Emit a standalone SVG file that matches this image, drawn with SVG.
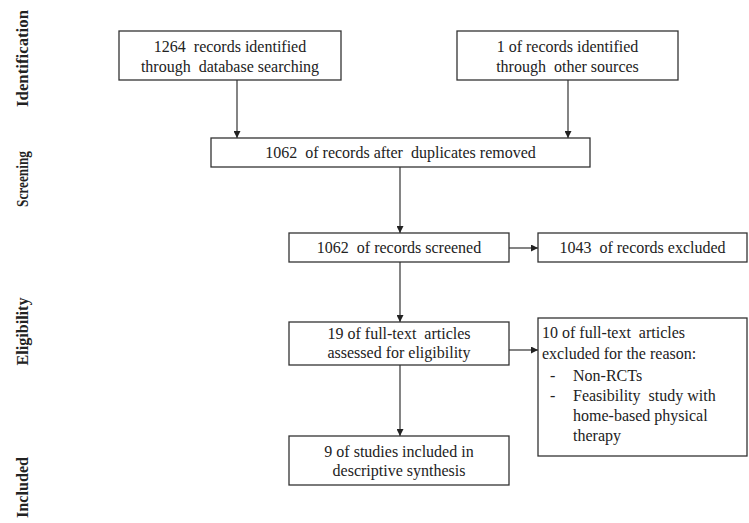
<svg xmlns="http://www.w3.org/2000/svg" width="749" height="523" viewBox="0 0 749 523">
<defs>
<marker id="ah" viewBox="0 0 10 10" refX="10" refY="5" markerWidth="7" markerHeight="7" markerUnits="userSpaceOnUse" orient="auto">
<path d="M0,0 L10,5 L0,10 z" fill="#222"/>
</marker>
<style>
.box{fill:#fff;stroke:#333;stroke-width:1.3}
.t{font-family:"Liberation Serif","Times New Roman","DejaVu Serif",serif;font-size:16px;fill:#222;white-space:pre}
.c{text-anchor:middle}
.lab{font-family:"Liberation Serif","Times New Roman","DejaVu Serif",serif;font-size:16px;font-weight:bold;fill:#222;text-anchor:middle}
.ln{stroke:#333;stroke-width:1.2;fill:none;marker-end:url(#ah)}
</style>
</defs>
<rect width="749" height="523" fill="#fff"/>
<g id="labels">
<text class="lab" transform="translate(28,58.5) rotate(-90)" textLength="97" lengthAdjust="spacingAndGlyphs">Identification</text>
<text class="lab" transform="translate(28,179) rotate(-90)" textLength="56" lengthAdjust="spacingAndGlyphs">Screening</text>
<text class="lab" transform="translate(28,331.5) rotate(-90)" textLength="68" lengthAdjust="spacingAndGlyphs">Eligibility</text>
<text class="lab" transform="translate(28,487.5) rotate(-90)" textLength="61" lengthAdjust="spacingAndGlyphs">Included</text>
</g>
<g id="connectors">
<line class="ln" x1="237" y1="80" x2="237" y2="138"/>
<line class="ln" x1="568" y1="80" x2="568" y2="138"/>
<line class="ln" x1="400" y1="167" x2="400" y2="233"/>
<line class="ln" x1="509" y1="248" x2="538" y2="248"/>
<line class="ln" x1="400" y1="262" x2="400" y2="322"/>
<line class="ln" x1="509" y1="350" x2="538" y2="350"/>
<line class="ln" x1="400" y1="365" x2="400" y2="436"/>
</g>
<g id="n1">
<rect class="box" x="119" y="31" width="222" height="49"/>
<text class="t c" x="230" y="51.5">1264  records identified</text>
<text class="t c" x="230" y="71.5">through  database searching</text>
</g>
<g id="n2">
<rect class="box" x="457" y="31" width="221" height="49"/>
<text class="t c" x="567.5" y="51.5">1 of records identified</text>
<text class="t c" x="567.5" y="71.5">through  other sources</text>
</g>
<g id="n3">
<rect class="box" x="211" y="138" width="379" height="29"/>
<text class="t c" x="400.5" y="157.5">1062  of records after  duplicates removed</text>
</g>
<g id="n4">
<rect class="box" x="289" y="233" width="220" height="29"/>
<text class="t c" x="399" y="253">1062  of records screened</text>
</g>
<g id="n5">
<rect class="box" x="538" y="233" width="209" height="29"/>
<text class="t c" x="642.5" y="253">1043  of records excluded</text>
</g>
<g id="n6">
<rect class="box" x="289" y="322" width="220" height="43"/>
<text class="t c" x="399" y="338.5">19 of full-text  articles</text>
<text class="t c" x="399" y="358">assessed for eligibility</text>
</g>
<g id="n7">
<rect class="box" x="538" y="318" width="209" height="138"/>
<text class="t" x="542" y="338">10 of full-text  articles</text>
<text class="t" x="542" y="359">excluded for the reason:</text>
<text class="t" x="550" y="381">-</text>
<text class="t" x="573" y="381">Non-RCTs</text>
<text class="t" x="550" y="401">-</text>
<text class="t" x="573" y="401">Feasibility  study with</text>
<text class="t" x="573" y="421">home-based physical</text>
<text class="t" x="573" y="441">therapy</text>
</g>
<g id="n8">
<rect class="box" x="289" y="436" width="220" height="49"/>
<text class="t c" x="399" y="456.5">9 of studies included in</text>
<text class="t c" x="399" y="475.5">descriptive synthesis</text>
</g>
</svg>
